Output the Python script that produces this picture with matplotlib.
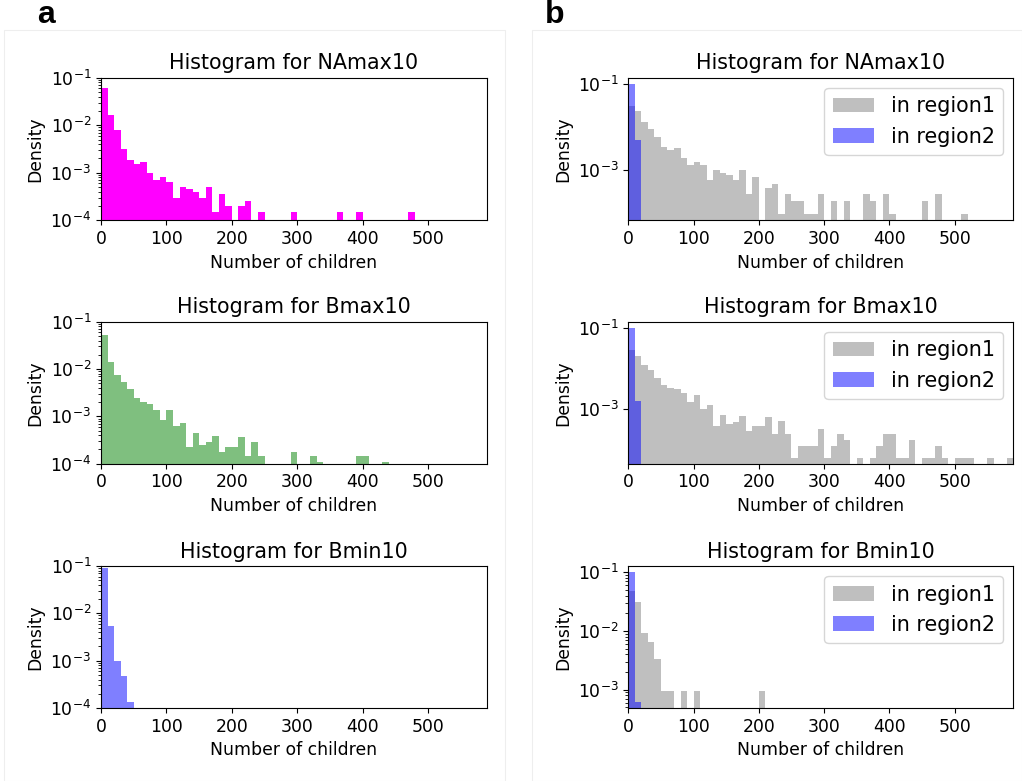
import numpy as np
import matplotlib
matplotlib.use('Agg')
import matplotlib.pyplot as plt
from matplotlib.ticker import LogLocator, NullLocator, FixedLocator
from matplotlib.patches import Rectangle

# ancho de cada bin (número de hijos)
ANCHO_BIN = 10

# --- columna a: densidad por bin (0-10, 10-20, ...) ---
namax10_total = [0.062, 0.0164, 0.0079, 0.0032, 0.00186, 0.0015, 0.00166, 0.001, 0.00071, 0.00081,
                 0.00065, 0.0003, 0.00051, 0.00046, 0.0004, 0.0003, 0.00051, 0.00015, 0.00035, 0.0002,
                 0, 0.0002, 0.00025, 0, 0.00015, 0, 0, 0, 0, 0.00015,
                 0, 0, 0, 0, 0, 0, 0.00015, 0, 0, 0.00015,
                 0, 0, 0, 0, 0, 0, 0, 0.00015]
bmax10_total = [0.052, 0.0143, 0.0075, 0.0054, 0.0038, 0.0024, 0.0020, 0.0018, 0.00135, 0.00083,
                0.00135, 0.00062, 0.00074, 0.00022, 0.00044, 0.00025, 0.00029, 0.00038, 0.00018, 0.00022,
                0.00022, 0.00037, 0.000147, 0.00029, 0.000147, 0, 0, 0, 0, 0.00018,
                0, 0, 0.000147, 0.000107, 0, 0, 0, 0, 0, 0.000147,
                0.000147, 0, 0, 0.000107]
bmin10_total = [0.092, 0.0054, 0.00098, 0.00048, 0.000134]

# --- columna b: region1 / region2 ---
namax10_r1 = [0.031, 0.0236, 0.0132, 0.0090, 0.0058, 0.0034, 0.0030, 0.0033, 0.0019, 0.00134,
              0.00155, 0.0013, 0.00059, 0.001, 0.00089, 0.00077, 0.00059, 0.001, 0.00029, 0.00071,
              0, 0.0004, 0.00049, 0.0001, 0.00029, 0.0002, 0.0002, 0.0001, 0.0001, 0.00029,
              0, 0.0002, 0, 0.0002, 0, 0, 0.00029, 0.0002, 0, 0.00029,
              0.0001, 0, 0, 0, 0, 0.0002, 0, 0.00029, 0, 0,
              0, 0.0001]
namax10_r2 = [0.1, 0.0049]
bmax10_r1 = [0.028, 0.020, 0.012, 0.0091, 0.0060, 0.0039, 0.0034, 0.0031, 0.0025, 0.0015,
             0.0023, 0.00104, 0.00125, 0.00038, 0.00071, 0.00043, 0.00049, 0.00067, 0.00030, 0.00038,
             0.00038, 0.00065, 0.00024, 0.0005, 0.00024, 6.5e-5, 0.000126, 0.000126, 0.000126, 0.00032,
             6.5e-5, 0.000126, 0.00024, 0.00018, 0, 6.5e-5, 0, 6.5e-5, 0.000126, 0.00024,
             0.00024, 6.5e-5, 6.5e-5, 0.00018, 0, 6.5e-5, 6.5e-5, 0.000126, 6.5e-5, 0,
             6.5e-5, 6.5e-5, 6.5e-5, 0, 0, 6.5e-5, 0, 0, 6.5e-5]
bmax10_r2 = [0.1, 0.0016]
bmin10_r1 = [0.048, 0.031, 0.0094, 0.0066, 0.0034, 0.00096, 0.00096, 0, 0.00096, 0,
             0.00096, 0, 0, 0, 0, 0, 0, 0, 0, 0,
             0.00096]
bmin10_r2 = [0.1, 0.00063]

titulos = ['Histogram for NAmax10', 'Histogram for Bmax10', 'Histogram for Bmin10']
colores_a = [('magenta', 1.0), ('green', 0.5), ('blue', 0.5)]
datos_a = [namax10_total, bmax10_total, bmin10_total]
datos_b = [(namax10_r1, namax10_r2), (bmax10_r1, bmax10_r2), (bmin10_r1, bmin10_r2)]
ylim_b = [(7.1e-5, 0.137), (4.6e-5, 0.141), (4.9e-4, 0.128)]
yticks_b = [[1e-3, 1e-1], [1e-3, 1e-1], [1e-3, 1e-2, 1e-1]]

XMAX = 590
FS_TICK = 12.4
FS_TITULO = 14.9


def dibujar_hist(ax, valores, color, alpha, label=None):
    # cada valor es la densidad de un bin de ancho 10
    n = len(valores)
    bordes = np.arange(n + 1) * ANCHO_BIN
    centros = bordes[:-1] + ANCHO_BIN / 2
    ax.hist(centros, bins=bordes, weights=valores, color=color, alpha=alpha, label=label)


W, H = 1022, 781
plt.rcParams['font.size'] = FS_TICK
fig = plt.figure(figsize=(W / 100, H / 100), dpi=100)

# marcos tenues de las dos imágenes originales
fig.add_artist(Rectangle((4 / W, 0), 501 / W, 1 - 30 / H, transform=fig.transFigure,
                         fill=False, edgecolor='#eeeeee', linewidth=0.8))
fig.add_artist(Rectangle((532 / W, 0), 490 / W, 1 - 30 / H, transform=fig.transFigure,
                         fill=False, edgecolor='#eeeeee', linewidth=0.8))

filas = [(77.7, 220.3), (321.7, 463.7), (566, 708)]
col_a = (101, 487)
col_b = (628.3, 1013.3)


def crear_ejes(col, fila):
    x0, x1 = col
    y0, y1 = fila
    return fig.add_axes([x0 / W, 1 - y1 / H, (x1 - x0) / W, (y1 - y0) / H])


for i in range(3):
    # --- columna a ---
    ax = crear_ejes(col_a, filas[i])
    color, alpha = colores_a[i]
    dibujar_hist(ax, datos_a[i], color, alpha)
    ax.set_yscale('log')
    ax.set_ylim(1e-4, 1e-1)
    ax.set_xlim(0, XMAX)
    ax.yaxis.set_major_locator(FixedLocator([1e-4, 1e-3, 1e-2, 1e-1]))
    ax.yaxis.set_minor_locator(LogLocator(base=10, subs=np.arange(2, 10), numticks=100))
    ax.set_xticks([0, 100, 200, 300, 400, 500])
    ax.set_title(titulos[i], fontsize=FS_TITULO)
    ax.set_xlabel('Number of children')
    ax.set_ylabel('Density')

    # --- columna b ---
    ax = crear_ejes(col_b, filas[i])
    r1, r2 = datos_b[i]
    dibujar_hist(ax, r1, 'gray', 0.5, label='in region1')
    dibujar_hist(ax, r2, 'blue', 0.5, label='in region2')
    ax.set_yscale('log')
    ax.set_ylim(*ylim_b[i])
    ax.set_xlim(0, XMAX)
    ax.yaxis.set_major_locator(FixedLocator(yticks_b[i]))
    if i == 2:
        ax.yaxis.set_minor_locator(LogLocator(base=10, subs=np.arange(2, 10), numticks=100))
    else:
        ax.yaxis.set_minor_locator(NullLocator())
    ax.set_xticks([0, 100, 200, 300, 400, 500])
    ax.set_title(titulos[i], fontsize=FS_TITULO)
    ax.set_xlabel('Number of children')
    ax.set_ylabel('Density')
    ax.legend(loc='upper right', fontsize=FS_TITULO)

fig.text(37 / W, 1 - 23 / H, 'a', fontsize=23, fontweight='bold', family='Liberation Sans')
fig.text(545 / W, 1 - 23 / H, 'b', fontsize=23, fontweight='bold', family='Liberation Sans')

fig.savefig('out.png', dpi=100)
